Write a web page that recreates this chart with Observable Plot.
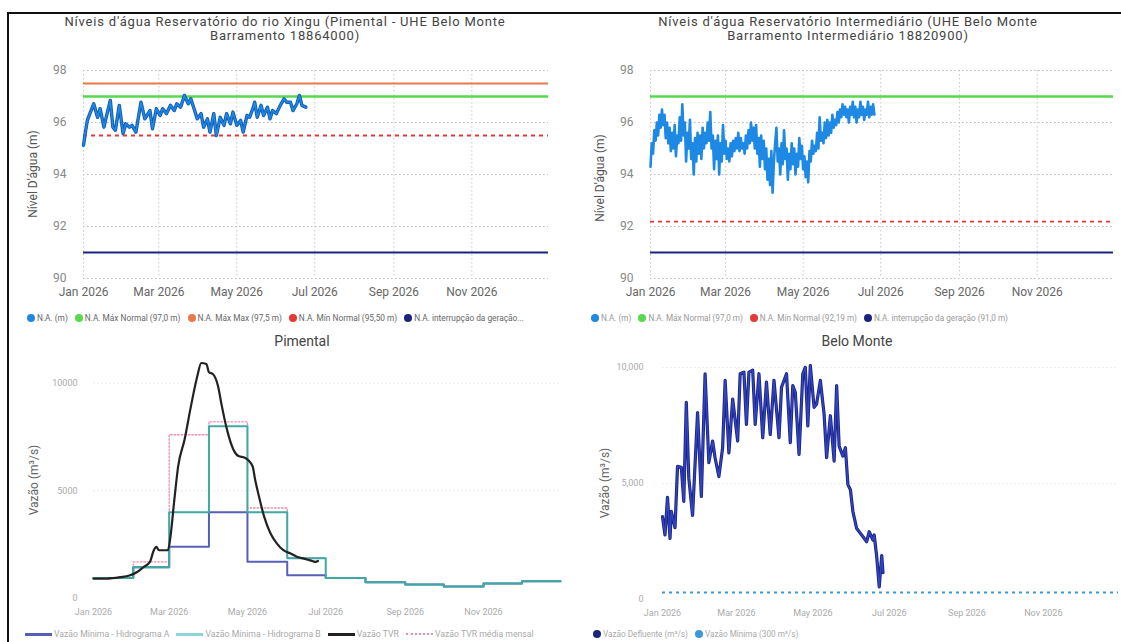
<!DOCTYPE html>
<html><head><meta charset="utf-8">
<script src="https://cdn.jsdelivr.net/npm/d3@7"></script>
<script src="https://cdn.jsdelivr.net/npm/@observablehq/plot@0.6"></script>
<style>
body{margin:0;width:1121px;height:642px;position:relative;background:#fff;overflow:hidden;font-family:Roboto,"Noto Sans",sans-serif}
.abs{position:absolute}
#frame{position:absolute;left:7px;top:12px;width:1120px;height:640px;border-left:2px solid #111;border-top:2px solid #111}
.title{position:absolute;text-align:center;color:#444;font-size:13px;line-height:14px;letter-spacing:0.8px}
.ytitle{position:absolute;transform:translate(-50%,-50%) rotate(-90deg);white-space:nowrap;font-size:12px;color:#555}
.legend{position:absolute;display:flex;align-items:center;white-space:nowrap;font-size:8.3px}
.legend .it{display:flex;align-items:center;margin-right:7px}
.legend .dot{width:8px;height:8px;border-radius:50%;margin-right:2px;display:inline-block}
.legend .sw{width:27px;height:0;margin-right:2px;display:inline-block}
</style></head><body>
<div id="frame"></div>
<div id="tl" class="abs" style="left:0;top:55px"></div>
<div id="tr" class="abs" style="left:560px;top:55px"></div>
<div id="bl" class="abs" style="left:0;top:350px"></div>
<div id="br" class="abs" style="left:560px;top:350px"></div>
<script>
// ---------- DATA ----------
const titles = {
  tl: ["Níveis d'água Reservatório do rio Xingu (Pimental - UHE Belo Monte", "Barramento 18864000)"],
  tr: ["Níveis d'água Reservatório Intermediário (UHE Belo Monte", "Barramento Intermediário 18820900)"],
  bl: "Pimental",
  br: "Belo Monte"
};
const monthTicks = ["2026-01-01","2026-03-01","2026-05-01","2026-07-01","2026-09-01","2026-11-01"];
const monthStarts = ["2026-01-01","2026-02-01","2026-03-01","2026-04-01","2026-05-01","2026-06-01","2026-07-01","2026-08-01","2026-09-01","2026-10-01","2026-11-01","2026-12-01"];
const yearEnd = "2026-12-31";
const levelTicks = [90,92,94,96,98];
const flowTicks = [0,5000,10000];

// Pimental reservoir level (days since 2026-01-01, m)
const pimentalLevelDays = [0,1.5,3,5,8,11,13,16,19,21,23,25,28,31,33,36,38,41,45,48,52,54,57,60,62,65,68,71,73,76,79,82,84,87,89,92,94,97,99,102,104,107,110,112,115,117,120,123,125,128,130,133,134,136,139,141,144,146,148,151,154,157,159,162,164,167,169,171,174];
const pimentalLevel = [95.12,95.63,96.08,96.34,96.72,96.2,96.53,95.82,96.46,96.85,95.82,95.7,96.66,95.57,95.95,95.82,95.89,95.63,96.78,96.14,96.46,95.76,96.53,96.27,96.53,96.34,96.66,96.46,96.72,96.59,97.04,96.72,96.91,96.46,96.14,96.34,95.82,96.14,95.63,96.34,95.5,96.2,95.89,96.34,95.95,96.4,95.89,96.08,95.63,96.27,96.2,96.59,96.78,96.2,96.66,96.27,96.59,96.14,96.46,96.34,96.66,96.91,96.78,96.78,96.46,96.72,97.04,96.66,96.59];
const pimentalLimits = [97.5, 97.0, 95.5, 91.0];  // máx max, máx normal, mín normal, interrupção
const pimentalLegend = ["N.A. (m)","N.A. Máx Normal (97,0 m)","N.A. Máx Max (97,5 m)","N.A. Mín Normal (95,50 m)","N.A. interrupção da geração..."];

// Intermediário reservoir level (daily from 2026-01-01, m)
const interLevel = [94.3,95.2,94.8,95.7,95.3,96.0,95.5,96.3,95.8,96.5,95.9,96.3,95.4,96.0,95.2,95.8,94.9,95.6,95.0,95.9,94.7,95.5,95.2,96.2,95.3,96.7,95.5,96.0,94.5,95.6,95.0,96.1,94.6,95.2,94.0,95.4,94.5,95.6,94.8,95.5,94.6,95.8,95.0,95.6,95.2,96.0,95.3,96.4,95.0,95.5,94.2,95.3,94.6,95.5,94.0,95.2,94.5,95.9,94.8,95.3,94.6,95.0,94.5,95.2,94.7,95.3,94.9,95.4,95.0,95.6,94.9,95.4,95.0,95.2,94.8,95.5,95.0,95.7,95.2,96.0,95.3,95.8,95.0,95.9,94.8,95.4,94.3,95.5,94.6,95.3,94.2,95.0,93.8,94.6,93.6,94.9,93.3,94.5,95.2,95.8,94.5,95.0,94.0,95.2,94.4,95.7,94.6,95.0,93.8,94.8,94.2,95.2,94.4,95.0,94.0,94.8,94.3,95.4,94.6,95.1,94.2,94.7,93.9,94.5,93.7,94.9,94.5,95.3,94.8,95.1,94.9,95.6,95.0,96.2,95.3,95.6,95.2,96.0,95.4,96.1,95.5,96.0,95.6,96.3,95.8,96.1,95.9,96.4,96.0,96.5,96.2,96.7,96.3,96.6,96.2,96.5,96.0,96.6,96.3,96.8,96.2,96.6,96.0,96.5,96.2,96.8,96.3,96.6,96.1,96.5,96.3,96.8,96.2,96.6,96.3,96.7,96.3];
const interLimits = [97.0, 92.19, 91.0];
const interLegend = ["N.A. (m)","N.A. Máx Normal (97,0 m)","N.A. Mín Normal (92,19 m)","N.A. interrupção da geração (91,0 m)"];

// Pimental flows
const hidroA = [950,1450,2400,4000,1700,1075,950,750,650,560,700,800];
const hidroB = [950,1450,4000,8000,4000,1870,950,750,650,560,700,800];
const tvrMonthly = [950,1700,7600,8200,4200,1900];
const tvrDays = [0,10,21,28,34,39,44,47,49,51,58,60,63,66,71,76,81,84,88,90,93,97,100,104,109,113,118,124,126,129,133,138,143,148,154,159,164,169,173,175];
const tvr = [920,920,990,1070,1230,1460,1700,2240,2400,2240,2240,2870,4580,6140,7380,8940,10340,10930,10880,10500,10420,9870,8940,7850,6920,6610,6530,6140,5510,4730,3800,3020,2550,2240,2080,1930,1850,1770,1700,1740];
const pimentalFlowLegend = ["Vazão Mínima - Hidrograma A","Vazão Mínima - Hidrograma B","Vazão TVR","Vazão TVR média mensal"];

// Belo Monte outflow
const bmDays = [0,2,4,6,7,10,12,15,17,19,21,24,28,31,34,37,40,42,45,48,50,53,56,60,62,65,67,69,72,74,77,80,83,86,89,93,95,99,102,104,106,109,112,114,116,118,121,123,126,129,131,134,137,139,141,144,146,148,150,152,155,159,163,165,168,169,171,173,175,176];
const bmFlow = [3570,2780,4400,2630,3800,3100,5740,5700,4230,8500,5230,3620,8060,4440,9730,5900,6830,6100,5300,6540,9440,6320,8640,6830,9730,9800,7550,9800,9880,7550,9730,6970,9370,7110,9440,6970,9150,9730,6760,9220,8930,6250,9730,10000,7480,10090,8280,8420,9440,7990,6110,7920,5960,9220,6610,6180,6540,4950,4730,3790,3060,2780,2490,2920,2560,2780,1840,540,1890,1160];
const bmMin = 300;
const bmLegend = ["Vazão Defluente (m³/s)","Vazão Mínima (300 m³/s)"];

// ---------- HELPERS ----------
const D = s => new Date(s + "T00:00:00Z");
const day0 = D("2026-01-01");
const dayDate = n => new Date(day0.getTime() + n * 864e5);
const xDomain = [day0, D(yearEnd)];
const fmtMonth = d3.utcFormat("%b %Y");
const C = {na:"#1e88e5", naDark:"#1259b0", green:"#56d94c", orange:"#e8794a", red:"#e53935", navy:"#1a237e",
  hA:"#5660b8", hB:"#3fa9a5", tvr:"#222", tvrM:"#f28aa8", bm:"#1b2580", bmIn:"#3344c4", bmMin:"#3b98d8"};
const baseStyle = {fontFamily:"Roboto, 'Noto Sans', sans-serif", background:"transparent", overflow:"visible"};

function html(inner){ document.body.insertAdjacentHTML("beforeend", inner); }
function addTitle(lines, left, width, top){
  html(`<div class="title" style="left:${left}px;width:${width}px;top:${top}px">${lines.join("<br>")}</div>`);
}
function addYTitle(text, x, y, color){
  html(`<div class="ytitle" style="left:${x}px;top:${y}px;color:${color}">${text}</div>`);
}
function addLegend(items, colors, left, top, color, kind, size){
  const parts = items.map((t,i)=>{
    let mark;
    if (kind === "line") {
      const st = colors[i].dash ? `border-top:2px dotted ${colors[i].c}` : `border-top:3px solid ${colors[i].c}`;
      mark = `<span class="sw" style="${st}"></span>`;
    } else mark = `<span class="dot" style="background:${colors[i]}"></span>`;
    return `<span class="it">${mark}<span>${t}</span></span>`;
  }).join("");
  html(`<div class="legend" style="left:${left}px;top:${top}px;color:${color};font-size:${size}px">${parts}</div>`);
}

// ---------- TOP LEFT ----------
const tlData = pimentalLevelDays.map((d,i)=>({date:dayDate(d), v:pimentalLevel[i]}));
document.getElementById("tl").append(Plot.plot({
  width:560, height:248, marginLeft:83, marginRight:12, marginTop:15, marginBottom:25,
  style: baseStyle,
  x:{type:"utc", domain:xDomain, axis:null},
  y:{domain:[90,98], axis:null},
  marks:[
    Plot.gridY(levelTicks, {stroke:"#bbb", strokeOpacity:1, strokeDasharray:"1.5,2.5"}),
    Plot.gridX(monthTicks.map(D), {stroke:"#c8c8c8", strokeOpacity:1, strokeDasharray:"1.5,2.5"}),
    Plot.axisY({ticks:levelTicks, tickSize:0, tickPadding:17, fontSize:12, color:"#888", label:null}),
    Plot.axisX({ticks:monthTicks.map(D), tickFormat:fmtMonth, tickSize:0, tickPadding:9, fontSize:12, color:"#666", label:null}),
    Plot.ruleY([pimentalLimits[0]], {stroke:C.orange, strokeWidth:2}),
    Plot.ruleY([pimentalLimits[1]], {stroke:C.green, strokeWidth:2.5}),
    Plot.ruleY([pimentalLimits[2]], {stroke:C.red, strokeWidth:1.8, strokeDasharray:"4,4"}),
    Plot.ruleY([pimentalLimits[3]], {stroke:C.navy, strokeWidth:2}),
    Plot.line(tlData, {x:"date", y:"v", stroke:C.naDark, strokeWidth:3.4}),
    Plot.line(tlData, {x:"date", y:"v", stroke:C.na, strokeWidth:1.6})
  ]
}));
addTitle(titles.tl, 10, 550, 15);
addYTitle("Nível D'água (m)", 33, 174, "#555");
addLegend(pimentalLegend, [C.na, C.green, C.orange, C.red, C.navy], 27, 313, "#666", "dot", 8.3);

// ---------- TOP RIGHT ----------
const trData = interLevel.map((v,i)=>({date:dayDate(i), v}));
document.getElementById("tr").append(Plot.plot({
  width:561, height:248, marginLeft:90, marginRight:8, marginTop:15, marginBottom:25,
  style: baseStyle,
  x:{type:"utc", domain:xDomain, axis:null},
  y:{domain:[90,98], axis:null},
  marks:[
    Plot.gridY(levelTicks, {stroke:"#bbb", strokeOpacity:1, strokeDasharray:"1.5,2.5"}),
    Plot.gridX(monthTicks.map(D), {stroke:"#c8c8c8", strokeOpacity:1, strokeDasharray:"1.5,2.5"}),
    Plot.axisY({ticks:levelTicks, tickSize:0, tickPadding:17, fontSize:12, color:"#888", label:null}),
    Plot.axisX({ticks:monthTicks.map(D), tickFormat:fmtMonth, tickSize:0, tickPadding:9, fontSize:12, color:"#666", label:null}),
    Plot.ruleY([interLimits[0]], {stroke:C.green, strokeWidth:2.5}),
    Plot.ruleY([interLimits[1]], {stroke:C.red, strokeWidth:1.8, strokeDasharray:"4,4"}),
    Plot.ruleY([interLimits[2]], {stroke:C.navy, strokeWidth:2}),
    Plot.line(trData, {x:"date", y:"v", stroke:C.na, strokeWidth:2.6})
  ]
}));
addTitle(titles.tr, 600, 496, 15);
addYTitle("Nível D'água (m)", 600, 178, "#555");
addLegend(interLegend, [C.na, C.green, C.red, C.navy], 591, 313, "#999", "dot", 8.2);

// ---------- BOTTOM LEFT ----------
const endD = D(yearEnd);
const stepA = monthStarts.map((m,i)=>({date:D(m), v:hidroA[i]})).concat([{date:endD, v:hidroA[11]}]);
const stepB = monthStarts.map((m,i)=>({date:D(m), v:hidroB[i]})).concat([{date:endD, v:hidroB[11]}]);
const stepT = tvrMonthly.map((v,i)=>({date:D(monthStarts[i]), v})).concat([{date:D("2026-06-30"), v:tvrMonthly[5]}]);
const tvrData = tvrDays.map((d,i)=>({date:dayDate(d), v:tvr[i]}));
document.getElementById("bl").append(Plot.plot({
  width:562, height:270, marginLeft:93, marginRight:2, marginTop:11, marginBottom:22,
  style: baseStyle,
  x:{type:"utc", domain:xDomain, axis:null},
  y:{domain:[0,11000], axis:null},
  marks:[
    Plot.gridY([5000,10000], {stroke:"#e4e4e4", strokeOpacity:1, strokeDasharray:"1.5,2.5"}),
    Plot.axisY({ticks:flowTicks, tickFormat:d=>String(d), tickSize:0, tickPadding:16, fontSize:9, color:"#aaa", label:null}),
    Plot.axisX({ticks:monthTicks.map(D), tickFormat:fmtMonth, tickSize:0, tickPadding:10, fontSize:9, color:"#aaa", label:null}),
    Plot.line(stepT, {x:"date", y:"v", curve:"step-after", stroke:C.tvrM, strokeWidth:1.3, strokeDasharray:"1.5,2"}),
    Plot.line(stepA, {x:"date", y:"v", curve:"step-after", stroke:C.hA, strokeWidth:2}),
    Plot.line(stepB, {x:"date", y:"v", curve:"step-after", stroke:C.hB, strokeWidth:2}),
    Plot.line(tvrData, {x:"date", y:"v", curve:"monotone-x", stroke:C.tvr, strokeWidth:2.2})
  ]
}));
html(`<div class="title" style="left:202px;width:200px;top:334px;font-size:14px;line-height:14px;letter-spacing:0">${titles.bl}</div>`);
addYTitle("Vazão (m³/s)", 34, 480, "#666");
addLegend(pimentalFlowLegend, [{c:C.hA},{c:"#8fd3d6"},{c:C.tvr},{c:C.tvrM,dash:true}], 25, 629, "#aaa", "line", 8.7);

// ---------- BOTTOM RIGHT ----------
const bmData = bmDays.map((d,i)=>({date:dayDate(d), v:bmFlow[i]}));
document.getElementById("br").append(Plot.plot({
  width:561, height:270, marginLeft:102, marginRight:3, marginTop:10, marginBottom:21,
  style: baseStyle,
  x:{type:"utc", domain:xDomain, axis:null},
  y:{domain:[0,10300], axis:null},
  marks:[
    Plot.gridY([5000,10000], {stroke:"#e8e8e8", strokeOpacity:1, strokeDasharray:"1.5,2.5"}),
    Plot.axisY({ticks:flowTicks, tickFormat:d3.format(","), tickSize:0, tickPadding:19, fontSize:9, color:"#aaa", label:null}),
    Plot.axisX({ticks:monthTicks.map(D), tickFormat:fmtMonth, tickSize:0, tickPadding:10, fontSize:9, color:"#aaa", label:null}),
    Plot.ruleY([bmMin], {stroke:C.bmMin, strokeWidth:2, strokeDasharray:"3,4"}),
    Plot.line(bmData, {x:"date", y:"v", stroke:C.bm, strokeWidth:3.2}),
    Plot.line(bmData, {x:"date", y:"v", stroke:C.bmIn, strokeWidth:1.4})
  ]
}));
html(`<div class="title" style="left:757px;width:200px;top:334px;font-size:14px;line-height:14px;letter-spacing:0">${titles.br}</div>`);
addYTitle("Vazão (m³/s)", 605, 483, "#666");
addLegend(bmLegend, [C.bm, C.bmMin], 593, 629, "#aaa", "dot", 8.2);
</script>
</body></html>
